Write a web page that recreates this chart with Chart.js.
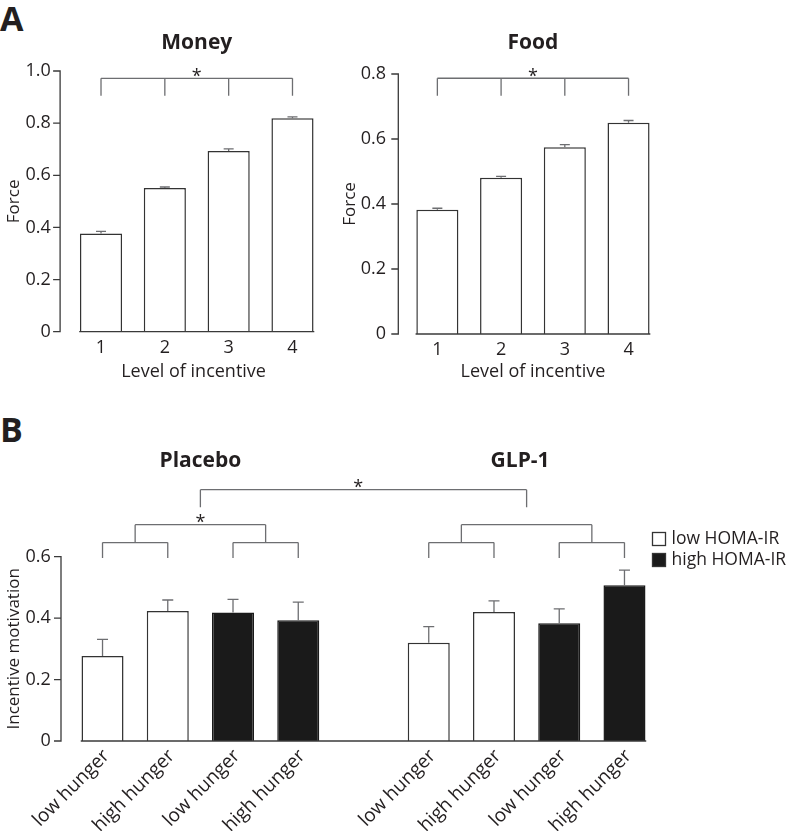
<!DOCTYPE html>
<html><head><meta charset="utf-8">
<script src="https://cdn.jsdelivr.net/npm/chart.js@4.4.0/dist/chart.umd.min.js"></script>
<style>
html,body{margin:0;padding:0;background:#fff;width:789px;height:831px;overflow:hidden;}
canvas{position:absolute;}
.lbl{position:absolute;font-family:'Open Sans';font-weight:700;font-size:34px;color:#231f20;line-height:1;}
</style></head><body>
<div class="lbl" style="left:0;top:1px">A</div>
<div class="lbl" style="left:0;top:412px">B</div>
<canvas id="cMoney" width="335" height="390" style="left:0;top:0"></canvas>
<canvas id="cFood" width="330" height="390" style="left:340px;top:0"></canvas>
<canvas id="cB" width="789" height="431" style="left:0;top:400px"></canvas>
<script>
// ---------- data ----------
const levels = ['1', '2', '3', '4'];
const moneyForce = [0.377, 0.551, 0.693, 0.819];
const moneySEM   = [0.008, 0.004, 0.008, 0.005];
const foodForce  = [0.382, 0.481, 0.575, 0.650];
const foodSEM    = [0.005, 0.004, 0.008, 0.007];
const moneyTicks = ['0', '0.2', '0.4', '0.6', '0.8', '1.0'];
const foodTicks  = ['0', '0.2', '0.4', '0.6', '0.8'];

const hungerLabels = ['low hunger', 'high hunger', 'low hunger', 'high hunger', '',
                      'low hunger', 'high hunger', 'low hunger', 'high hunger'];
const placeboLowHoma     = [0.277, 0.423];
const placeboLowHomaSEM  = [0.054, 0.036];
const placeboHighHoma    = [0.418, 0.393];
const placeboHighHomaSEM = [0.043, 0.059];
const glpLowHoma         = [0.320, 0.420];
const glpLowHomaSEM      = [0.052, 0.036];
const glpHighHoma        = [0.383, 0.507];
const glpHighHomaSEM     = [0.047, 0.049];
const motivationTicks = ['0', '0.2', '0.4', '0.6'];

// ---------- build B series ----------
const N = [null, null];
const lowData  = [...placeboLowHoma, ...N, null, ...glpLowHoma, ...N];
const lowErr   = [...placeboLowHomaSEM, ...N, null, ...glpLowHomaSEM, ...N];
const highData = [...N, ...placeboHighHoma, null, ...N, ...glpHighHoma];
const highErr  = [...N, ...placeboHighHomaSEM, null, ...N, ...glpHighHomaSEM];

const INK = '#231f20', GREY = '#6d6e71', FONT = "'Open Sans'";
const TICK = 18;
Chart.defaults.font.family = FONT;
Chart.defaults.color = INK;

// ---------- decoration plugin ----------
const decor = {
  id: 'decor',
  afterDatasetsDraw(chart, args, o) {
    const ctx = chart.ctx, xs = chart.scales.x, ys = chart.scales.y, ca = chart.chartArea;
    const cx = c => xs.getPixelForValue(c);
    ctx.save();
    // error bars
    chart.data.datasets.forEach((ds, di) => {
      const meta = chart.getDatasetMeta(di);
      meta.data.forEach((bar, i) => {
        const v = ds.data[i], e = ds.err ? ds.err[i] : null;
        if (v == null || e == null) return;
        const yt = ys.getPixelForValue(v + e);
        ctx.strokeStyle = GREY; ctx.lineWidth = 1.3;
        ctx.beginPath();
        ctx.moveTo(bar.x, bar.y); ctx.lineTo(bar.x, yt);
        ctx.moveTo(bar.x - o.capHalf, yt); ctx.lineTo(bar.x + o.capHalf, yt);
        ctx.stroke();
      });
    });
    // y axis line + ticks
    const ax = ca.left - o.axisGap;
    const y0 = ys.getPixelForValue(0), y1 = ys.getPixelForValue(o.axisTop);
    ctx.strokeStyle = '#3a3a3a'; ctx.lineWidth = 1.3;
    ctx.beginPath();
    ctx.moveTo(ax, y0 + 0.65); ctx.lineTo(ax, y1 - 0.65);
    ys.ticks.forEach(t => {
      const py = ys.getPixelForValue(t.value);
      ctx.moveTo(ax - o.tickLen, py); ctx.lineTo(ax, py);
    });
    ctx.stroke();
    // baseline under bars
    let minX = Infinity, maxX = -Infinity;
    chart.data.datasets.forEach((ds, di) => {
      chart.getDatasetMeta(di).data.forEach((b, i) => {
        if (ds.data[i] == null) return;
        minX = Math.min(minX, b.x - b.width / 2);
        maxX = Math.max(maxX, b.x + b.width / 2);
      });
    });
    ctx.beginPath(); ctx.moveTo(minX - 0.75, y0); ctx.lineTo(maxX + 0.75, y0); ctx.stroke();
    // brackets
    ctx.strokeStyle = GREY; ctx.lineWidth = 1.3;
    (o.brackets || []).forEach(b => {
      const yt = ys.getPixelForValue(b.top), yb = ys.getPixelForValue(b.bottom);
      const xl = cx(Math.min(...b.legs)), xr = cx(Math.max(...b.legs));
      ctx.beginPath();
      ctx.moveTo(xl, yt); ctx.lineTo(xr, yt);
      b.legs.forEach(l => { ctx.moveTo(cx(l), yt); ctx.lineTo(cx(l), yb); });
      ctx.stroke();
    });
    ctx.fillStyle = INK;
    ctx.font = `18px ${FONT}`; ctx.textAlign = 'center'; ctx.textBaseline = 'alphabetic';
    (o.stars || []).forEach(s => ctx.fillText('*', cx(s.c), ys.getPixelForValue(s.v) + 10));
    // titles
    ctx.font = `bold 21px ${FONT}`; ctx.textBaseline = 'middle';
    (o.titles || []).forEach(t => ctx.fillText(t.text, cx(t.c), t.y));
    // axis titles
    ctx.font = `18px ${FONT}`;
    if (o.xTitle) ctx.fillText(o.xTitle.text, cx(o.xTitle.c), o.xTitle.y);
    if (o.yTitle) {
      ctx.font = `17px ${FONT}`;
      ctx.save();
      ctx.translate(o.yTitle.x, (y0 + y1) / 2);
      ctx.rotate(-Math.PI / 2);
      ctx.fillText(o.yTitle.text, 0, 0);
      ctx.restore();
    }
    // legend
    if (o.legend) {
      ctx.font = `17.5px ${FONT}`; ctx.textAlign = 'left';
      chart.data.datasets.forEach((ds, i) => {
        const ly = o.legend.y + i * o.legend.gap;
        ctx.fillStyle = ds.backgroundColor; ctx.strokeStyle = '#333'; ctx.lineWidth = 1.3;
        ctx.fillRect(o.legend.x, ly, 13, 13); ctx.strokeRect(o.legend.x, ly, 13, 13);
        ctx.fillStyle = INK;
        ctx.fillText(ds.label, o.legend.x + 19, ly + 7);
      });
    }
    ctx.restore();
  }
};

function axisCommon(extra) {
  return Object.assign({
    grid: { display: false, drawTicks: false },
    border: { display: false }
  }, extra);
}

// ---------- Panel A: Money ----------
new Chart(document.getElementById('cMoney'), {
  type: 'bar',
  data: { labels: levels, datasets: [{ label: 'Money', data: moneyForce, err: moneySEM,
    backgroundColor: '#ffffff', borderColor: '#333', borderWidth: 1.5,
    categoryPercentage: 1, barPercentage: 0.66 }] },
  options: {
    responsive: false, animation: false,
    layout: { padding: { left: 0, right: 10.6, top: 71, bottom: 0 } },
    plugins: { legend: { display: false }, tooltip: { enabled: false },
      decor: { capHalf: 5, axisGap: 9, tickLen: 7, axisTop: 1.0,
        brackets: [{ legs: [0, 1, 2, 3], top: 0.972, bottom: 0.905 }],
        stars: [{ c: 1.5, v: 0.995 }],
        titles: [{ text: 'Money', c: 1.5, y: 43 }],
        xTitle: { text: 'Level of incentive', c: 1.45, y: 372 },
        yTitle: { text: 'Force', x: 14 } } },
    scales: {
      x: axisCommon({ ticks: { padding: 5, font: { size: TICK } }, afterFit(s) { s.height = 58.3; } }),
      y: axisCommon({ min: 0, max: 1, ticks: { stepSize: 0.2, padding: 18.4, font: { size: TICK },
        callback: (v, i) => moneyTicks[i] }, afterFit(s) { s.width = 69.1; } })
    }
  },
  plugins: [decor]
});

// ---------- Panel A: Food ----------
new Chart(document.getElementById('cFood'), {
  type: 'bar',
  data: { labels: levels, datasets: [{ label: 'Food', data: foodForce, err: foodSEM,
    backgroundColor: '#ffffff', borderColor: '#333', borderWidth: 1.5,
    categoryPercentage: 1, barPercentage: 0.66 }] },
  options: {
    responsive: false, animation: false,
    layout: { padding: { left: 0, right: 9.6, top: 74, bottom: 0 } },
    plugins: { legend: { display: false }, tooltip: { enabled: false },
      decor: { capHalf: 5, axisGap: 7.2, tickLen: 7, axisTop: 0.8,
        brackets: [{ legs: [0, 1, 2, 3], top: 0.787, bottom: 0.733 }],
        stars: [{ c: 1.5, v: 0.806 }],
        titles: [{ text: 'Food', c: 1.5, y: 43 }],
        xTitle: { text: 'Level of incentive', c: 1.5, y: 372 },
        yTitle: { text: 'Force', x: 10.5 } } },
    scales: {
      x: axisCommon({ ticks: { padding: 5, font: { size: TICK } }, afterFit(s) { s.height = 56; } }),
      y: axisCommon({ min: 0, max: 0.8, ticks: { stepSize: 0.2, padding: 19.5, font: { size: TICK },
        callback: (v, i) => foodTicks[i] }, afterFit(s) { s.width = 65.5; } })
    }
  },
  plugins: [decor]
});

// ---------- Panel B ----------
new Chart(document.getElementById('cB'), {
  type: 'bar',
  data: { labels: hungerLabels, datasets: [
    { label: 'low HOMA-IR', data: lowData, err: lowErr, backgroundColor: '#ffffff',
      borderColor: '#333', borderWidth: 1.5, categoryPercentage: 1, barPercentage: 0.644 },
    { label: 'high HOMA-IR', data: highData, err: highErr, backgroundColor: '#1a1a1a',
      borderColor: '#1a1a1a', borderWidth: 1.5, categoryPercentage: 1, barPercentage: 0.644 }
  ] },
  options: {
    responsive: false, animation: false,
    datasets: { bar: { grouped: false } },
    layout: { padding: { left: 0, right: 131.9, top: 64.5, bottom: 0 } },
    plugins: { legend: { display: false }, tooltip: { enabled: false },
      decor: { capHalf: 5.5, axisGap: 8.9, tickLen: 7, axisTop: 0.6,
        brackets: [
          { legs: [0, 1], top: 0.646, bottom: 0.596 },
          { legs: [2, 3], top: 0.646, bottom: 0.596 },
          { legs: [5, 6], top: 0.646, bottom: 0.596 },
          { legs: [7, 8], top: 0.646, bottom: 0.596 },
          { legs: [0.5, 2.5], top: 0.704, bottom: 0.646 },
          { legs: [5.5, 7.5], top: 0.704, bottom: 0.646 },
          { legs: [1.5, 6.5], top: 0.818, bottom: 0.761 }
        ],
        stars: [{ c: 1.5, v: 0.725 }, { c: 3.92, v: 0.841 }],
        titles: [{ text: 'Placebo', c: 1.5, y: 61 }, { text: 'GLP-1', c: 6.4, y: 61 }],
        yTitle: { text: 'Incentive motivation', x: 14.5 },
        legend: { x: 652.5, y: 132.5, gap: 21 } } },
    scales: {
      x: axisCommon({ ticks: { padding: 4, labelOffset: 4, font: { size: 19 }, minRotation: 45, maxRotation: 45, autoSkip: false },
        afterFit(s) { s.height = 90; } }),
      y: axisCommon({ min: 0, max: 0.9, ticks: { stepSize: 0.2, padding: 19.2, font: { size: TICK },
        callback: (v, i) => motivationTicks[i] },
        afterBuildTicks(s) { s.ticks = s.ticks.filter(t => t.value <= 0.6 + 1e-9); },
        afterFit(s) { s.width = 69.9; } })
    }
  },
  plugins: [decor]
});
</script>
</body></html>
